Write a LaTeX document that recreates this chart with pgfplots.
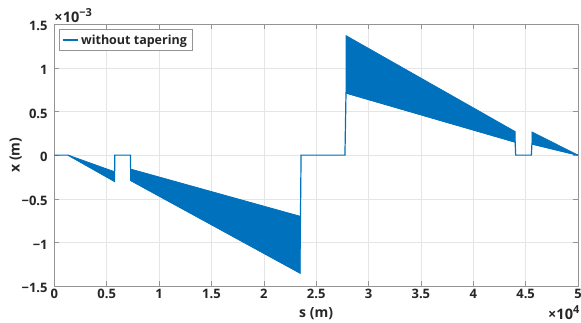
\documentclass[border=0pt]{standalone}
\usepackage{pgfplots}
\pgfplotsset{compat=1.18}
\usepackage{fontspec}
\setmainfont{Open Sans}
\definecolor{mblue}{rgb}{0,0.447,0.741}
\definecolor{axgray}{rgb}{0.58,0.58,0.58}
\definecolor{txt}{rgb}{0.15,0.15,0.15}
\newcommand{\tf}{\bfseries\fontsize{13}{15}\selectfont}
\newcommand{\lf}{\bfseries\fontsize{14}{16}\selectfont}
\newcommand{\mf}{\bfseries\fontsize{14.5}{16}\selectfont}
\newcommand{\sups}[1]{\raisebox{6.5pt}{\bfseries\fontsize{11}{12}\selectfont #1}}
\begin{document}
\begin{tikzpicture}[font=\tf, text=txt]
\begin{axis}[
  scale only axis, width=523.7pt, height=261.7pt,
  xmin=0, xmax=5, ymin=-1.5, ymax=1.5,
  xtick={0,0.5,1,1.5,2,2.5,3,3.5,4,4.5,5},
  xticklabels={0,0.5,1,1.5,2,2.5,3,3.5,4,4.5,5},
  ytick={-1.5,-1,-0.5,0,0.5,1,1.5},
  yticklabels={−1.5,−1,−0.5,0,0.5,1,1.5},
  tick align=inside, major tick length=5pt,
  tick style={axgray, line width=0.5pt},
  axis line style={axgray, line width=0.6pt},
  grid=major, major grid style={black!10, line width=0.5pt},
  xticklabel style={font=\tf, text=txt, anchor=base, inner sep=0pt, yshift=-12.5pt},
  yticklabel style={font=\tf, text=txt, anchor=east, inner sep=0pt, xshift=-6.5pt, yshift=-2pt},
  xlabel={s (m)}, ylabel={x (m)},
  xlabel style={font=\lf, at={(axis description cs:0.5,0)}, anchor=base, yshift=-32pt, text=txt},
  ylabel style={font=\lf, at={(axis description cs:-0.0735,0.5)}, anchor=center, text=txt},
  legend style={at={(0,1)}, anchor=north west, xshift=5pt, yshift=-5pt,
    draw=axgray, fill=white, line width=0.6pt, inner xsep=3pt, inner ysep=3pt,
    font=\bfseries\fontsize{12.5}{14}\selectfont, text=txt},
  legend cell align=left,
  legend image code/.code={\draw[draw=mblue, line width=1.5pt] (0pt,0pt) -- (15pt,0pt);},
  clip=true,
]
\addplot[mblue, line width=1.2pt] coordinates {
  (0,0) (0.133,0) (0.575,-0.30) (0.578,0) (0.727,0) (0.73,-0.29)
  (2.345,-1.35) (2.356,0) (2.775,0) (2.785,0.713) (4.40,0.15)
  (4.405,0) (4.555,0) (4.56,0.128) (5,0)
};
\addlegendentry{without tapering}
\addplot[fill=mblue, draw=mblue, line width=0.8pt, forget plot] coordinates {
  (0.133,0) (0.575,-0.19) (0.575,-0.30)
} -- cycle;
\addplot[fill=mblue, draw=mblue, line width=0.8pt, forget plot] coordinates {
  (0.73,-0.16) (2.345,-0.70) (2.345,-1.35) (0.73,-0.29)
} -- cycle;
\addplot[fill=mblue, draw=mblue, line width=0.8pt, forget plot] coordinates {
  (2.785,1.37) (4.40,0.27) (4.40,0.15) (2.785,0.713)
} -- cycle;
\addplot[fill=mblue, draw=mblue, line width=0.8pt, forget plot] coordinates {
  (4.56,0.266) (5,0) (4.56,0.128)
} -- cycle;
\coordinate (SW) at (rel axis cs:0,0);
\coordinate (NE) at (rel axis cs:1,1);
\end{axis}
\node[anchor=base west, inner sep=0pt, text=txt, font=\mf] at ([yshift=1.5pt]SW|-NE) {×10\sups{−3}};
\node[anchor=base east, inner sep=0pt, text=txt, font=\mf] at ([xshift=1.5pt,yshift=-34pt]NE|-SW) {×10\sups{4}};
\pgfresetboundingbox
\path[use as bounding box] ([shift={(-54.3pt,-37pt)}]SW) rectangle ([shift={(3pt,24.3pt)}]NE);
\end{tikzpicture}
\end{document}
